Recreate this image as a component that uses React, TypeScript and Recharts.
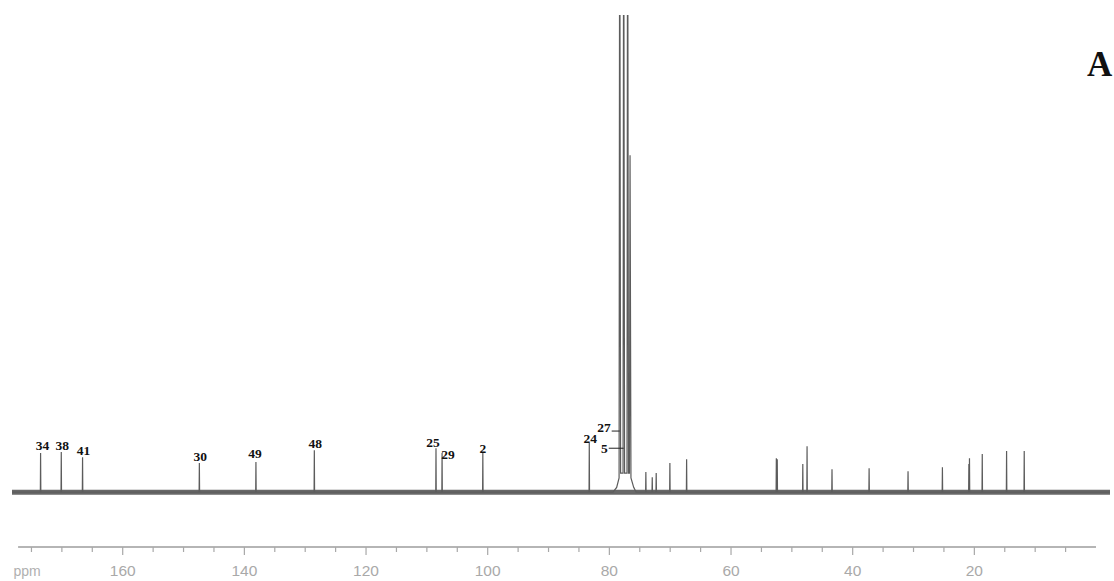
import { LineChart, Line, XAxis, YAxis, ReferenceLine, LabelList } from 'recharts';

// 13C peaks (ppm) with intensities and assignment numbers
const peakPpm = [
  173.5, 170.1, 166.6, 147.4, 138.1, 128.5, 108.5, 107.5, 100.8, 83.3,
  74.0, 72.95, 72.3, 70.05, 67.3, 52.55, 52.4, 48.2, 47.5, 43.4,
  37.3, 30.9, 25.25, 20.9, 20.8, 18.7, 14.7, 11.8,
];
const peakHeight = [
  8.2, 8.4, 7.3, 6.1, 6.3, 8.8, 9.2, 8.2, 8.2, 10.3,
  4.2, 3.1, 4.0, 6.1, 6.9, 7.1, 6.9, 5.9, 9.6, 4.8,
  5.0, 4.4, 5.2, 5.9, 7.1, 8.0, 8.6, 8.6,
];
const peakLabel = [
  '34', '38', '41', '30', '49', '48', '25', '29', '2', '24',
  '', '', '', '', '', '', '', '', '', '',
  '', '', '', '', '', '', '', '',
];

// CDCl3 region: triplet plus the overlapping signal, riding on a small hump
const solventPpm = [
  79.4, 78.8, 78.4, 78.3, 78.15, 77.75, 77.65, 77.5, 77.1, 77.0,
  76.85, 76.7, 76.6, 76.45, 76.0, 75.6,
];
const solventLevel = [
  0, 1, 3, 140, 4, 4, 140, 4, 4, 140,
  4, 4, 70.6, 3, 1, 0,
];

// signals assigned inside the solvent cluster, marked with leaders
const leaderLabel = ['27', '5'];
const leaderPpm = [78.3, 77.65];

const axisTicks = [
  175, 170, 165, 160, 155, 150, 145, 140, 135, 130, 125, 120, 115, 110, 105, 100,
  95, 90, 85, 80, 75, 70, 65, 60, 55, 50, 45, 40, 35, 30, 25, 20, 15, 10, 5,
];

const X_MIN = -2.3;
const X_MAX = 178.2;
const Y_MIN = -11.5;
const Y_MAX = 100;

type Pt = { ppm: number; v: number; label?: string };

const spectrum: Pt[] = [{ ppm: X_MAX, v: 0 }, { ppm: X_MIN, v: 0 }];
peakPpm.forEach((p, i) => {
  spectrum.push({ ppm: p + 0.04, v: 0 });
  spectrum.push({ ppm: p, v: peakHeight[i], label: peakLabel[i] || undefined });
  spectrum.push({ ppm: p - 0.04, v: 0 });
});
solventPpm.forEach((p, i) => spectrum.push({ ppm: p, v: solventLevel[i] }));
spectrum.sort((a, b) => b.ppm - a.ppm);

const baseBand = [{ ppm: X_MAX, v: 0 }, { ppm: X_MIN, v: 0 }];

const serif = '"Liberation Serif", "Times New Roman", serif';
const sans = '"Liberation Sans", Arial, sans-serif';

const labelNudge: Record<string, [number, number]> = {
  '34': [2, -1],
  '25': [-3, 1],
  '29': [6, 8],
  '49': [-1, -2],
  '2': [0, 2],
  '24': [1, 2],
};

function PeakLabel(props: any) {
  const { x, y, value } = props;
  if (!value) return null;
  const [dx, dy] = labelNudge[value] || [1, 0];
  return (
    <text x={x + dx} y={y - 2 + dy} textAnchor="middle" fontFamily={serif} fontWeight="bold" fontSize={13.5} fill="#111">
      {value}
    </text>
  );
}

function SpecTick(props: any) {
  const { x, y, payload } = props;
  const v = payload.value as number;
  const major = v % 20 === 0;
  return (
    <g>
      <line x1={x} x2={x} y1={y} y2={y + (major ? 8 : 5)} stroke="#a8a8a8" strokeWidth={1.2} />
      {major && (
        <text x={x} y={y + 29} textAnchor="middle" fontFamily={sans} fontSize={15.5} fill="#a9a9a9">
          {v}
        </text>
      )}
    </g>
  );
}

function LeaderText(text: string, dy: number) {
  return (props: any) => {
    const vb = props.viewBox || {};
    return (
      <text x={vb.x - 1} y={vb.y + dy} textAnchor="end" fontFamily={serif} fontWeight="bold" fontSize={13.5} fill="#111">
        {text}
      </text>
    );
  };
}

export default function App() {
  return (
    <div style={{ position: 'absolute', left: 0, top: 0, width: 1114, height: 581, background: '#fff' }}>
      <LineChart width={1114} height={581} data={spectrum} margin={{ top: 15, right: 4, bottom: 4, left: 12 }}>
        <XAxis
          dataKey="ppm"
          type="number"
          domain={[X_MIN, X_MAX]}
          reversed
          allowDataOverflow
          ticks={axisTicks}
          interval={0}
          height={30}
          axisLine={false}
          tickLine={false}
          tickSize={0}
          tickMargin={0}
          tick={<SpecTick />}
        />
        <YAxis hide type="number" domain={[Y_MIN, Y_MAX]} allowDataOverflow />
        <ReferenceLine
          segment={[{ x: 177.2, y: Y_MIN }, { x: 0, y: Y_MIN }]}
          stroke="#9d9d9d"
          strokeWidth={1.6}
          ifOverflow="visible"
        />
        <Line
          data={baseBand}
          dataKey="v"
          type="linear"
          stroke="#4d4d4d"
          strokeWidth={5}
          strokeOpacity={0.85}
          dot={false}
          isAnimationActive={false}
        />
        <Line
          dataKey="v"
          type="linear"
          stroke="#5c5c5c"
          strokeWidth={1.2}
          dot={false}
          isAnimationActive={false}
        >
          <LabelList dataKey="label" content={<PeakLabel />} />
        </Line>
        <ReferenceLine
          segment={[{ x: leaderPpm[0] + 1.32, y: 12.8 }, { x: leaderPpm[0], y: 12.8 }]}
          stroke="#222"
          strokeWidth={1}
          label={LeaderText(leaderLabel[0], 1)}
        />
        <ReferenceLine
          segment={[{ x: leaderPpm[1] + 2.45, y: 9.2 }, { x: leaderPpm[1], y: 9.2 }]}
          stroke="#222"
          strokeWidth={1}
          label={LeaderText(leaderLabel[1], 5)}
        />
      </LineChart>
      <svg width={1114} height={581} style={{ position: 'absolute', left: 0, top: 0, pointerEvents: 'none' }}>
        <text x={27} y={576} textAnchor="middle" fontFamily={sans} fontSize={14} fill="#b0b0b0">
          ppm
        </text>
        <text x={1087} y={76} fontFamily={serif} fontWeight="bold" fontSize={35} fill="#111">
          A
        </text>
      </svg>
    </div>
  );
}
